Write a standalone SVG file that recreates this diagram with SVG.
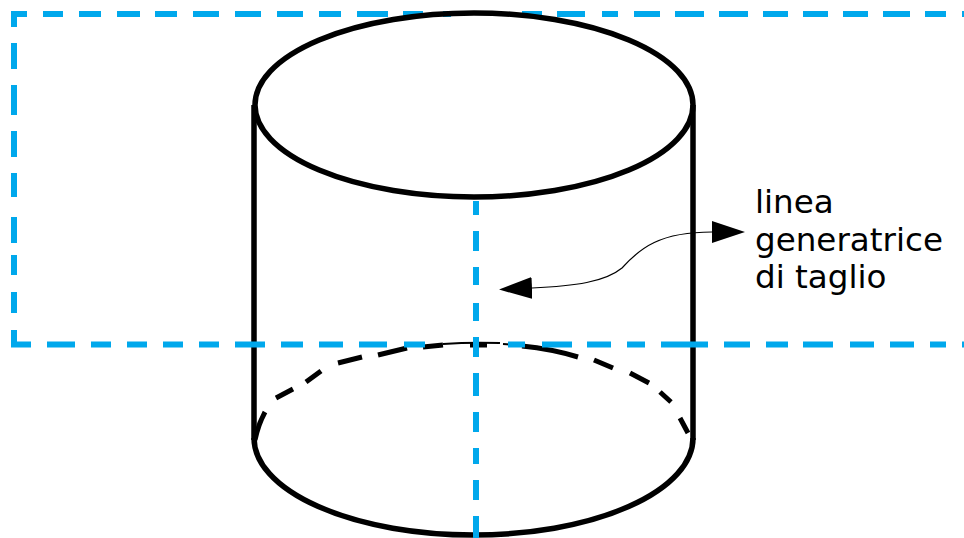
<svg xmlns="http://www.w3.org/2000/svg" width="964" height="538" viewBox="0 0 964 538">
<style>
.k{fill:none;stroke:#000;stroke-width:5.5}
.d{fill:none;stroke:#000;stroke-width:5}
.h{fill:none;stroke:#000;stroke-width:2}
.b{fill:none;stroke:#00a8ec;stroke-width:6}
.t{font-family:"DejaVu Sans",Verdana,sans-serif;font-size:32.6px;fill:#000}
</style>
<defs>
<marker id="a" markerUnits="userSpaceOnUse" markerWidth="34" markerHeight="24" refX="0" refY="11" orient="auto-start-reverse"><path d="M0 0 L33 11 L0 22 Z" fill="#000"/></marker>
</defs>
<g id="cut-plane-top">
<path class="b" d="M27 14H14V27M43 14H63M79 14H101M117 14H140M155 14H177M193 14H219M235 14H261M277 14H303M319 14H341M357 14H388M403 14H423M443 14H451M522 14H542M557 14H585M602 14H618M634 14H660M675 14H704M719 14H748M763 14H788M803 14H828M843 14H868M883 14H910M925 14H946M962 14H964"/>
<path class="b" d="M14 43V69M14 85V115M14 131V157M14 173V197M14 217V243M14 255V275M14 292V313"/>
</g>
<g id="cylinder">
<ellipse class="k" cx="474" cy="105" rx="219" ry="92"/>
<path class="k" d="M254 105V440M693 105V440"/>
<path class="k" d="M254 438A219.500 97 0 0 0 693 438"/>
<path class="d" d="M265 412Q258 425 255 440M276 398L293 389M306 382L321 371M338 363L362 357M378 355L407 348M423 347L443 345M470 345L487 345M522 346Q552 349 578 357M594 360L613 368M630 373L649 383M660 392L671 402M680 418L688 433"/>
<path class="h" d="M443 344Q470 342 500 343M503 344Q515 344.500 522 346"/>
</g>
<g id="cut-plane-bottom">
<path class="b" d="M14 330V344.500H31M47 344.500H75M91 344.500H111M127 344.500H147M163 344.500H183M199 344.500H219M235 344.500H265M281 344.500H303M319 344.500H343M359 344.500H387M404 344.500H425M508 344.500H525M542 344.500H572M587 344.500H611M627 344.500H645M661 344.500H708M724 344.500H750M766 344.500H788M803 344.500H833M850 344.500H874M890 344.500H914M930 344.500H946M962 344.500H964"/>
</g>
<g id="cut-line">
<path class="b" d="M476 201V215M476 231V251M476 267V285M476 303V321M476 337V357M476 373V396M476 412V432M476 448V464M476 480V500M476 516V538"/>
</g>
<g id="connectors">
<path fill="none" stroke="#000" stroke-width="1.2" marker-start="url(#a)" marker-end="url(#a)" d="M532 288C575 286 605 282 622 268C640 248 660 232 712 232"/>
</g>
<g id="label">
<text class="t" x="755" y="213">linea</text>
<text class="t" x="755" y="251">generatrice</text>
<text class="t" x="755" y="288">di taglio</text>
</g>
</svg>
